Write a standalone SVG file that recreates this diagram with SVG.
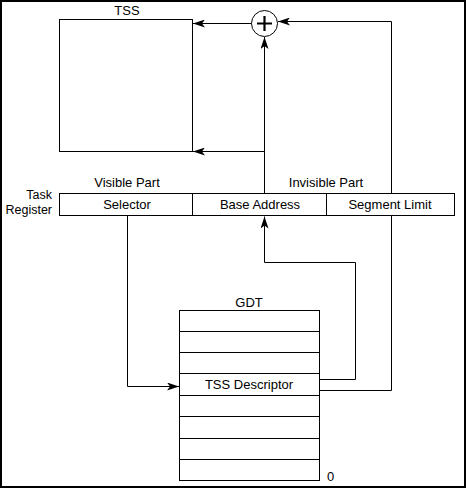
<svg xmlns="http://www.w3.org/2000/svg" width="466" height="488" viewBox="0 0 466 488">
<defs>
<style>
text{font-family:"Liberation Sans",Arial,sans-serif;font-size:13px;fill:#000}
.c{text-anchor:middle}
.r{text-anchor:end;font-size:12.5px}
.box{fill:#fff;stroke:#000;stroke-width:1}
.ln{fill:none;stroke:#000;stroke-width:1}
</style>
<marker id="ah" viewBox="0 0 12 8" refX="12" refY="4" markerWidth="12" markerHeight="8" markerUnits="userSpaceOnUse" orient="auto">
<path d="M0,0 L12,4 L0,8 L3,4 Z" fill="#000"/>
</marker>
</defs>
<rect x="1" y="1" width="464" height="486" fill="#fff" stroke="#000" stroke-width="2"/>
<g id="tss">
<rect class="box" x="59.5" y="19.5" width="133" height="132"/>
<text class="c" x="127" y="15">TSS</text>
</g>
<g id="adder">
<circle cx="264.5" cy="23.5" r="13" fill="#fff" stroke="#000" stroke-width="1"/>
<path d="M264.5,16 V31 M257,23.5 H272" stroke="#000" stroke-width="2.2" fill="none"/>
</g>
<g id="task-register">
<text class="r" x="52" y="199">Task</text>
<text class="r" x="52" y="213.5">Register</text>
<text class="c" x="127" y="187">Visible Part</text>
<text class="c" x="326" y="187">Invisible Part</text>
<rect class="box" x="59.5" y="193.5" width="395" height="22"/>
<line class="ln" x1="192.5" y1="193.5" x2="192.5" y2="215.5"/>
<line class="ln" x1="326.5" y1="193.5" x2="326.5" y2="215.5"/>
<text class="c" x="127" y="209">Selector</text>
<text class="c" x="260" y="209">Base Address</text>
<text class="c" x="390" y="209">Segment Limit</text>
</g>
<g id="gdt">
<text class="c" x="249" y="307">GDT</text>
<rect class="box" x="179.5" y="310.5" width="140" height="170"/>
<path class="ln" d="M179.5,331.5 H319.5 M179.5,352.5 H319.5 M179.5,373.5 H319.5 M179.5,395.5 H319.5 M179.5,416.5 H319.5 M179.5,438.5 H319.5 M179.5,459.5 H319.5"/>
<text class="c" x="249" y="389">TSS Descriptor</text>
<text x="327" y="481">0</text>
</g>
<g id="connectors">
<path class="ln" d="M251.5,23.5 H193" marker-end="url(#ah)"/>
<path class="ln" d="M264.5,193.5 V37" marker-end="url(#ah)"/>
<path class="ln" d="M264.5,151.5 H193" marker-end="url(#ah)"/>
<path class="ln" d="M391.5,193.5 V21.5 H278" marker-end="url(#ah)"/>
<path class="ln" d="M319.5,390.5 H391.5 V215.5"/>
<path class="ln" d="M127.5,215.5 V386.5 H179" marker-end="url(#ah)"/>
<path class="ln" d="M319.5,379.5 H355.5 V262.5 H264.5 V216.5" marker-end="url(#ah)"/>
</g>
</svg>
